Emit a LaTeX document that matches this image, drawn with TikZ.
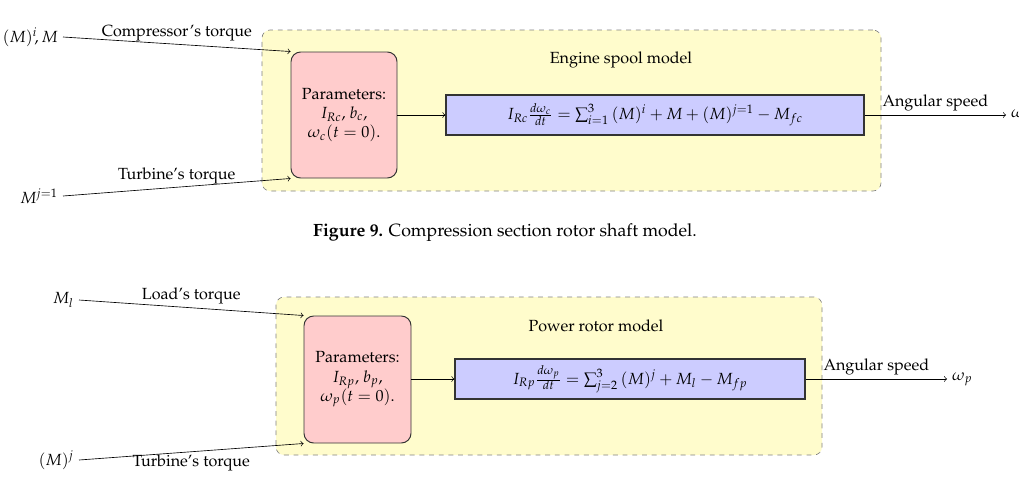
\documentclass[tikz,border=0pt]{standalone}
\usepackage[T1]{fontenc}
\usepackage{mathpazo}
\usetikzlibrary{fit}
\begin{document}
\begin{tikzpicture}[x=0.62pt,y=-0.62pt,
  group/.style={draw=gray, dashed, fill=yellow!20, rounded corners=5pt, inner sep=0pt},
  parbox/.style={draw=black!80, semithick, fill=red!20, rounded corners=6pt, inner sep=0pt},
  eqbox/.style={draw=black!80, thick, fill=blue!20, inner sep=0pt},
  boxtext/.style={align=center, inner sep=0pt},
  inlbl/.style={inner sep=3pt},
  lbl/.style={inner sep=2pt},
  conn/.style={->}]
\useasboundingbox (0,0) rectangle (1019,492);
% ---------- top diagram ----------
\node[group, fit={(262,30)(881,191)}] (g1) {};
\node[parbox, fit={(291,52)(397,178)}] (p1) {};
\node[boxtext] (p1t) at (p1.center) {Parameters:\\ $I_{Rc}$, $b_c$,\\ $\omega_c(t=0)$.};
\node[eqbox, fit={(446,95)(864,135)}] (e1) {};
\node[boxtext] (e1t) at (e1.center) {$I_{Rc}\frac{d\omega_c}{dt}=\sum_{i=1}^{3}\,(M)^i+M+(M)^{j=1}-M_{fc}$};
\node (t1) at (621,60) {Engine spool model};
\node[anchor=east, inlbl] (in1) at (63,37) {$(M)^i\!,M$};
\node[anchor=east, inlbl] (in2) at (63,196) {$M^{j=1}$};
\node[anchor=west, inlbl] (o1) at (1006,115) {$\omega_c$};
\draw[conn] (in1.east) -- (p1.north west) node[midway, above, lbl] (l1) {Compressor's torque};
\draw[conn] (in2.east) -- (p1.south west) node[midway, above, lbl] (l2) {Turbine's torque};
\draw[conn] (p1.east |- e1.west) -- (e1.west);
\draw[conn] (e1.east) -- (o1.west) node[midway, above, lbl] (l3) {Angular speed};
\node (cap) at (505,233) {\fontsize{11}{13}\selectfont\textbf{Figure 9.} Compression section rotor shaft model.};
% ---------- bottom diagram ----------
\node[group, fit={(276,297)(822,455)}] (g2) {};
\node[parbox, fit={(304,316)(411,443)}] (p2) {};
\node[boxtext] (p2t) at (p2.center) {Parameters:\\ $I_{Rp}$, $b_p$,\\ $\omega_p(t=0)$.};
\node[eqbox, fit={(455,359)(805,399)}] (e2) {};
\node[boxtext] (e2t) at (e2.center) {$I_{Rp}\frac{d\omega_p}{dt}=\sum_{j=2}^{3}\,(M)^j+M_l-M_{fp}$};
\node (t2) at (596,326) {Power rotor model};
\node[anchor=east, inlbl] (in3) at (79,300) {$M_l$};
\node[anchor=east, inlbl] (in4) at (79,460) {$(M)^j$};
\node[anchor=west, inlbl] (o2) at (947,379) {$\omega_p$};
\draw[conn] (in3.east) -- (p2.north west) node[midway, above, lbl] (l4) {Load's torque};
\draw[conn] (in4.east) -- (p2.south west) node[midway, below, lbl] (l5) {Turbine's torque};
\draw[conn] (p2.east |- e2.west) -- (e2.west);
\draw[conn] (e2.east) -- (o2.west) node[midway, above, lbl] (l6) {Angular speed};
\end{tikzpicture}
\end{document}
